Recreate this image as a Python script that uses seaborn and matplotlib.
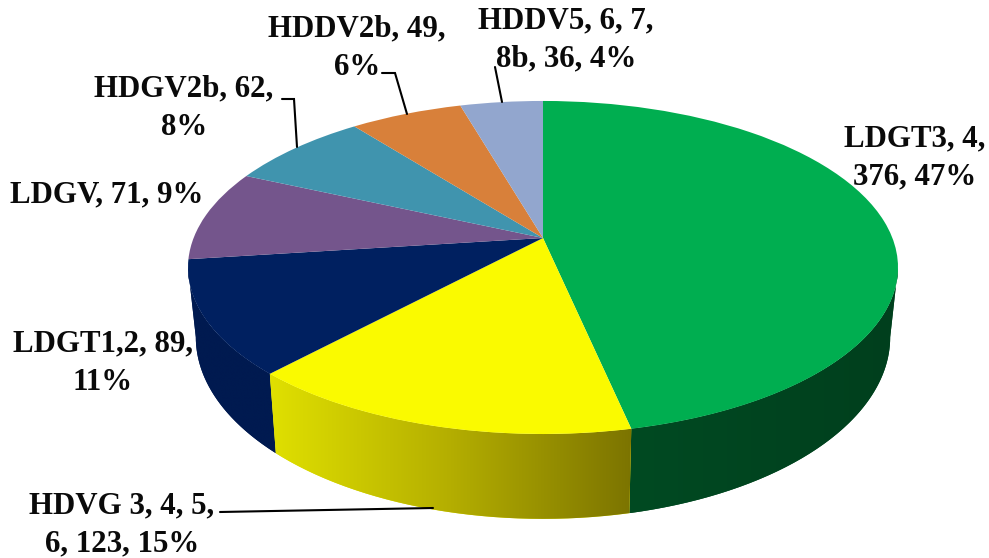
import numpy as np
import matplotlib
matplotlib.use("Agg")
import matplotlib.pyplot as plt
from matplotlib.colors import LinearSegmentedColormap
from matplotlib.path import Path
from matplotlib.patches import PathPatch
from matplotlib.transforms import Transform
import seaborn as sns

categories = ["LDGT3, 4", "HDVG 3, 4, 5, 6", "LDGT1,2", "LDGV", "HDGV2b", "HDDV2b", "HDDV5, 6, 7, 8b"]
values = [376, 123, 89, 71, 62, 49, 36]
percents = [47, 15, 11, 9, 8, 6, 4]
top_colors = ["#00AE50", "#FAFA00", "#002060", "#74558C", "#4094AE", "#D8803A", "#92A6CE"]
wall_stops = {0: ["#004A22", "#003F1D"], 1: ["#E0E000", "#B4AE00", "#7C7400"], 2: ["#001A50", "#001A50"]}
label_text = ["LDGT3, 4,\n376, 47%", "HDVG 3, 4, 5,\n6, 123, 15%", "LDGT1,2, 89,\n11%", "LDGV, 71, 9%",
              "HDGV2b, 62,\n8%", "HDDV2b, 49,\n6%", "HDDV5, 6, 7,\n8b, 36, 4%"]
label_xy = [(915, 158), (122, 525), (103, 363), (107, 195), (184, 108), (357, 48), (566, 40)]
leaders = [[(220, 512), (433, 508)],
           [(282, 99), (294, 99), (297, 147)],
           [(382, 73), (395, 73), (407, 114)],
           [(495, 67), (502, 102)]]

sns.set_theme(style="white")
W, H = 989, 558
TILT = 0.177


class Tilt(Transform):
    input_dims = output_dims = 2
    is_affine = False
    has_inverse = False

    def __init__(self, cx, cy, d, a, c):
        super().__init__()
        self.p = (cx, cy, d, a, c)

    def transform_non_affine(self, xy):
        cx, cy, d, a, c = self.p
        xy = np.asarray(xy, float)
        w = 1 + c * xy[:, 1]
        return np.column_stack([cx + d * xy[:, 0] / w, cy - a * xy[:, 1] / w])


top_disc = Tilt(543, 238, 349.4, 161.3, TILT)
base_disc = Tilt(543, 305, 341.7, 176, TILT)

fig = plt.figure(figsize=(W / 100, H / 100), dpi=100, facecolor="white")
ax = fig.add_axes([0, 0, 1, 1])
wedges, _ = ax.pie(values, colors=top_colors, startangle=90, counterclock=False,
                   wedgeprops={"linewidth": 0})
ax.set_aspect("auto")
ax.set_xlim(0, W)
ax.set_ylim(H, 0)
ax.axis("off")

for wedge in wedges:
    wedge.set_transform(top_disc + ax.transData)
    wedge.set_zorder(5)

# the wall is only seen between the two silhouette angles of the tilted disc
edge = np.degrees(np.arcsin(TILT))
front_lo, front_hi = 180 + edge, 360 - edge

for idx, stops in wall_stops.items():
    wedge = wedges[idx]
    t1, t2 = wedge.theta1 % 360, wedge.theta2 % 360
    if t2 <= t1:
        t2 += 360
    t1, t2 = max(t1, front_lo), min(t2, front_hi)
    th = np.radians(np.linspace(t1, t2, 160))
    unit = np.column_stack([np.cos(th), np.sin(th)])
    upper = top_disc.transform_non_affine(unit)
    lower = base_disc.transform_non_affine(unit)
    poly = np.vstack([upper, lower[::-1], upper[:1]])
    patch = PathPatch(Path(poly), facecolor=stops[0], edgecolor="none", zorder=2 + (idx == 1))
    ax.add_patch(patch)
    cmap = LinearSegmentedColormap.from_list(f"w{idx}", stops)
    im = ax.imshow(np.linspace(0, 1, 256)[None, :], cmap=cmap, aspect="auto", interpolation="bilinear",
                   extent=(poly[:, 0].min(), poly[:, 0].max(), poly[:, 1].max(), poly[:, 1].min()),
                   zorder=2 + (idx == 1))
    im.set_clip_path(patch)
ax.set_xlim(0, W)
ax.set_ylim(H, 0)

for pts in leaders:
    xs, ys = zip(*pts)
    ax.plot(xs, ys, color="black", lw=1.5, zorder=6, solid_joinstyle="miter")

for text, (x, y) in zip(label_text, label_xy):
    ax.text(x, y, text, family="Liberation Serif", weight="bold", fontsize=22.2, color="#0A0A0A",
            ha="center", va="center", linespacing=1.42, zorder=7)

fig.savefig("out.png", dpi=100, facecolor="white")
